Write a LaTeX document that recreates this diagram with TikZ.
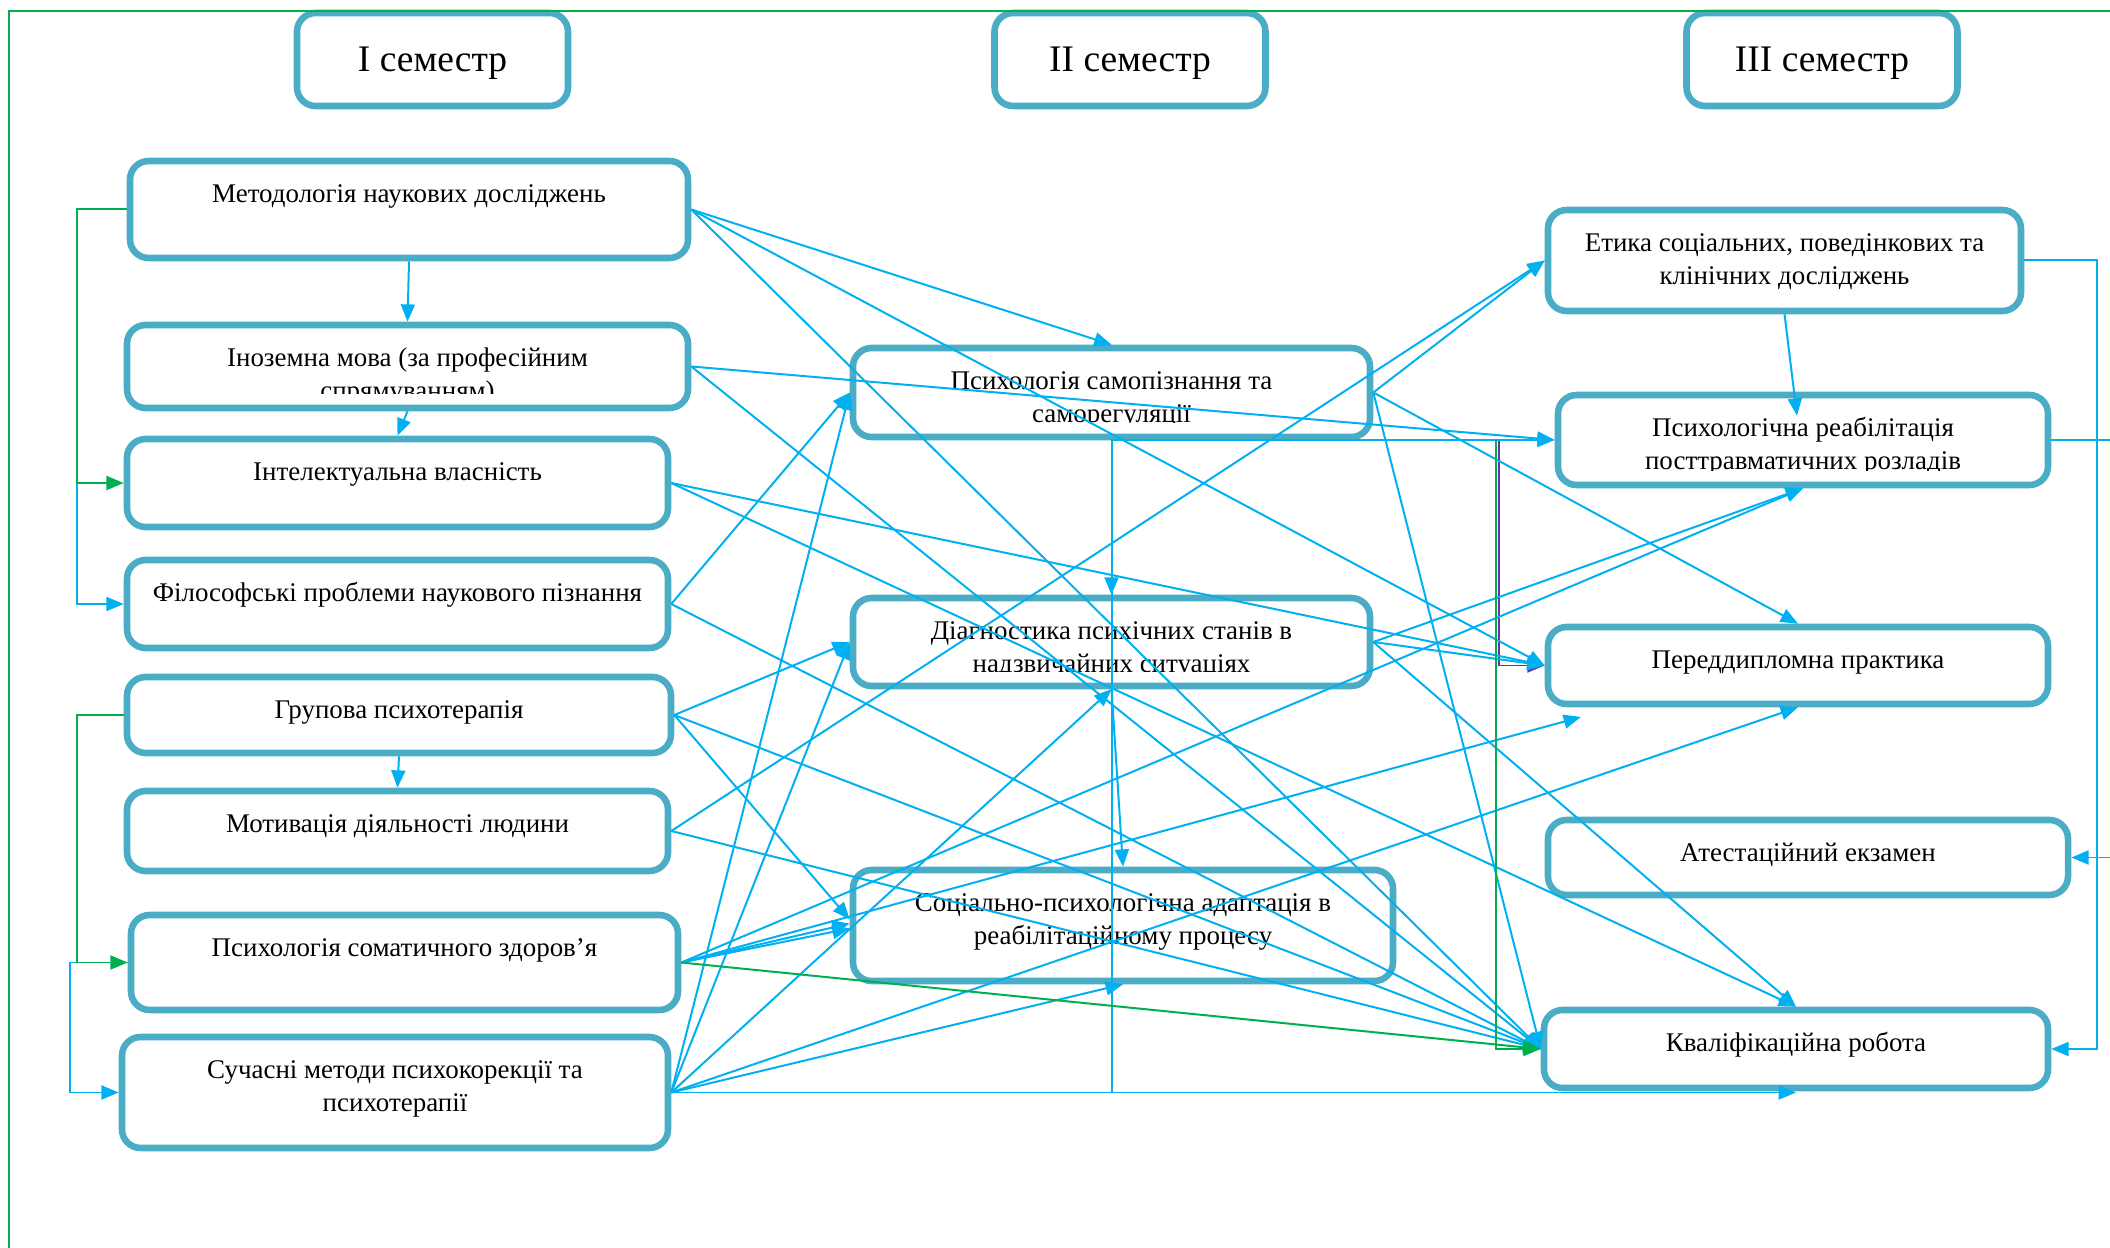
\documentclass[tikz,border=0pt]{standalone}
\usepackage{fontspec}
\setmainfont{Liberation Serif}
\usetikzlibrary{arrows.meta}

\definecolor{boxcol}{RGB}{75,172,198}
\definecolor{linecol}{RGB}{0,176,240}
\definecolor{greencol}{RGB}{0,176,80}
\definecolor{violetcol}{RGB}{112,48,160}

\begin{document}
\begin{tikzpicture}[x=0.15mm, y=-0.15mm,
    box/.style={draw=boxcol, line width=2.8pt, rounded corners=2.8mm, inner sep=0pt},
    head/.style={box, minimum width=40.65mm, minimum height=13.95mm, text depth=0pt,
        font=\fontsize{16}{19}\selectfont},
    txt/.style={anchor=base, align=center, inner sep=0pt, font=\fontsize{11.5}{13.87}\selectfont},
    conn/.style={draw=linecol, line width=0.85pt, -{Triangle[length=2.6mm, width=2.1mm]}},
    gconn/.style={conn, draw=greencol},
    vconn/.style={conn, draw=violetcol}]
    \path[use as bounding box, fill=white] (0,0) rectangle (2110,1248);

    % Semesters
    \node[head] (h1) at (432.5,59.5) {I семестр};
    \node[head] (h2) at (1130,59.5) {II семестр};
    \node[head] (h3) at (1822,59.5) {III семестр};

    % Disciplines, first semester
    \node[box, minimum width=83.7mm, minimum height=14.55mm] (m1) at (409,209.5) {};
    \node[box, minimum width=84.15mm, minimum height=12.45mm] (im) at (407.5,366.5) {};
    \node[box, minimum width=81.15mm, minimum height=13.2mm] (iv) at (397.5,483) {};
    \node[box, minimum width=81.15mm, minimum height=13.2mm] (fp) at (397.5,604) {};
    \node[box, minimum width=81.6mm, minimum height=11.4mm] (gp) at (399,715) {};
    \node[box, minimum width=81.15mm, minimum height=12mm] (md) at (397.5,831) {};
    \node[box, minimum width=82.05mm, minimum height=14.25mm] (ps) at (404.5,962.5) {};
    \node[box, minimum width=81.9mm, minimum height=16.65mm] (sm) at (395,1092.5) {};
    % second semester
    \node[box, minimum width=77.55mm, minimum height=13.35mm] (sp) at (1111.5,392.5) {};
    \node[box, minimum width=77.55mm, minimum height=13.2mm] (ds) at (1111.5,642) {};
    \node[box, minimum width=81mm, minimum height=16.65mm] (sa) at (1123,925.5) {};
    % third semester
    \node[box, minimum width=70.95mm, minimum height=15.15mm] (et) at (1784.5,260.5) {};
    \node[box, minimum width=73.5mm, minimum height=13.5mm] (pr) at (1803,440) {};
    \node[box, minimum width=75mm, minimum height=11.55mm] (pd) at (1798,665.5) {};
    \node[box, minimum width=78mm, minimum height=11.25mm] (ae) at (1808,857.5) {};
    \node[box, minimum width=75.6mm, minimum height=11.7mm] (kr) at (1796,1049) {};

    % Texts sit at the top of the boxes and are cut at the bottom
    % (base of a two-line text is its second line)
    \begin{scope}
        \clip foreach \n in {m1,im,iv,fp,gp,md,ps,sm,sp,ds,sa,et,pr,pd,ae,kr}
            {(\n.north west) rectangle ([shift={(0,-18)}]\n.south east)};
        \node[txt] (m1t) at ([shift={(0,45)}]m1.north) {Методологія наукових досліджень};
        \node[txt] (imt) at ([shift={(0,77.5)}]im.north) {Іноземна мова (за професійним\\спрямуванням)};
        \node[txt] (ivt) at ([shift={(0,45)}]iv.north) {Інтелектуальна власність};
        \node[txt] (fpt) at ([shift={(0,45)}]fp.north) {Філософські проблеми наукового пізнання};
        \node[txt] (gpt) at ([shift={(0,45)}]gp.north) {Групова психотерапія};
        \node[txt] (mdt) at ([shift={(0,45)}]md.north) {Мотивація діяльності людини};
        \node[txt] (pst) at ([shift={(0,45)}]ps.north) {Психологія соматичного здоров’я};
        \node[txt] (smt) at ([shift={(0,77.5)}]sm.north) {Сучасні методи психокорекції та\\психотерапії};
        \node[txt] (spt) at ([shift={(0,77.5)}]sp.north) {Психологія самопізнання та\\саморегуляції};
        \node[txt] (dst) at ([shift={(0,77.5)}]ds.north) {Діагностика психічних станів в\\надзвичайних ситуаціях};
        \node[txt] (sat) at ([shift={(0,77.5)}]sa.north) {Соціально-психологічна адаптація в\\реабілітаційному процесу};
        \node[txt] (ett) at ([shift={(0,77.5)}]et.north) {Етика соціальних, поведінкових та\\клінічних досліджень};
        \node[txt] (prt) at ([shift={(0,77.5)}]pr.north) {Психологічна реабілітація\\посттравматичних розладів};
        \node[txt] (pdt) at ([shift={(0,45)}]pd.north) {Переддипломна практика};
        \node[txt] (aet) at ([shift={(0,45)}]ae.north) {Атестаційний екзамен};
        \node[txt] (krt) at ([shift={(0,45)}]kr.north) {Кваліфікаційна робота};
    \end{scope}

    \coordinate (pdl) at (1581,717);
    \coordinate (pp) at (1499,440);
    \coordinate (gg) at (1496,440);

    % Frame line
    \draw[greencol, line width=0.7pt] (9,1260) |- (2130,11);
    \draw[vconn] (pp) |- (pd.west);

    % Links inside the first semester
    \draw[conn] (m1.south) -- (im.north);
    \draw[conn] (im.south) -- (iv.north);
    \draw[conn] (gp.south) -- (md.north);
    \draw[conn] (m1.west) -- ++(-50,0) |- (fp.west);
    \draw[gconn] (m1.west) -- ++(-50,0) |- (iv.west);
    \draw[conn] (ps.west) -- ++(-58,0) |- (sm.west);
    \draw[gconn] (gp.west) -- ++(-47,0) |- (ps.west);

    % From the first semester onwards
    \draw[conn] (m1.east) -- (sp.north);
    \draw[conn] (m1.east) -- (pd.west);
    \draw[conn] (m1.east) -- (kr.west);
    \draw[conn] (im.east) -- (pr.west);
    \draw[conn] (im.east) -- (kr.west);
    \draw[conn] (iv.east) -- (pd.west);
    \draw[conn] (iv.east) -- (kr.north);
    \draw[conn] (fp.east) -- (sp.west);
    \draw[conn] (fp.east) -- (kr.west);
    \draw[conn] (gp.east) -- (ds.west);
    \draw[conn] (gp.east) -- ([shift={(0,-6)}]sa.west);
    \draw[conn] (gp.east) -- (kr.west);
    \draw[conn] (md.east) -- (et.west);
    \draw[conn] (md.east) -- (kr.west);
    \draw[conn] (ps.east) -- ([shift={(0,-2)}]sa.west);
    \draw[conn] (ps.east) -- ([shift={(0,3)}]sa.west);
    \draw[conn] (ps.east) -- (pr.south);
    \draw[conn] (ps.east) -- (pdl);
    \draw[conn] (sm.east) -- (sp.west);
    \draw[conn] (sm.east) -- (ds.west);
    \draw[conn] (sm.east) -- (ds.south);
    \draw[conn] (sm.east) -- (sa.south);
    \draw[conn] (sm.east) -- (pd.south);
    \draw[conn] (sm.east) -- (sm.east -| kr.south);
    \draw[conn] (sm.east) -| (sp.south) |- (pr.west);

    % From the second semester
    \draw[conn] (sp.south) -- (ds.north);
    \draw[conn] (ds.south) -- (sa.north);
    \draw[conn] (sp.east) -- (et.west);
    \draw[conn] (sp.east) -- (pd.north);
    \draw[conn] (sp.east) -- (kr.west);
    \draw[conn] (ds.east) -- (pr.south);
    \draw[conn] (ds.east) -- (pd.west);
    \draw[conn] (ds.east) -- (kr.north);
    \draw[gconn] (gg) |- (kr.west);
    \draw[gconn] (ps.east) -- (kr.west);

    % Third semester
    \draw[conn] (et.south) -- ([shift={(-6,24)}]pr.north);
    \draw[conn] (et.east) -- ++(73,0) |- (kr.east);
    \draw[conn] (pr.east) -- ++(80,0) |- (ae.east);
\end{tikzpicture}
\end{document}
